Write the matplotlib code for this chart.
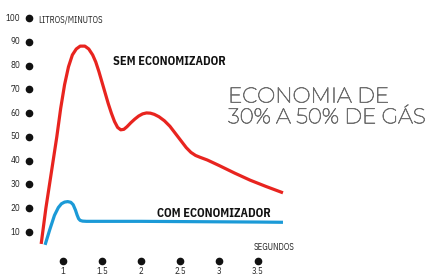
import matplotlib.pyplot as plt
import matplotlib.patheffects as pe
import numpy as np

# valores (segundos, litros/minuto)
sem_x = [0.72, 0.78, 0.85, 0.92, 0.97, 1.02, 1.07, 1.12, 1.17, 1.22, 1.28, 1.33, 1.38, 1.42, 1.46, 1.50,
         1.54, 1.58, 1.62, 1.66, 1.70, 1.74, 1.78, 1.82, 1.87, 1.92, 1.97, 2.02, 2.07, 2.12, 2.17,
         2.23, 2.30, 2.37, 2.44, 2.51, 2.58, 2.64, 2.70, 2.76, 2.85, 3.00, 3.20, 3.40, 3.60, 3.82]
sem_y = [5, 20, 35, 50, 62, 72, 79.5, 84.5, 87, 88.2, 88.2, 87, 84.5, 81.5, 77.5, 73,
         68.5, 64, 60, 56.5, 54, 53, 53.2, 54.3, 56, 57.5, 58.8, 59.7, 60.1, 60, 59.5,
         58.5, 56.8, 54.5, 51.5, 48.5, 45.5, 43.5, 42.2, 41.4, 40.3, 38, 34.8, 31.8, 29.2, 26.5]

com_x = [0.77, 0.83, 0.89, 0.94, 0.98, 1.02, 1.06, 1.10, 1.13, 1.16, 1.18, 1.20, 1.22, 1.25, 1.30,
         1.60, 2.00, 2.50, 3.00, 3.50, 3.82]
com_y = [4.6, 11, 17, 20.3, 21.9, 22.6, 22.8, 22.5, 21.5, 19.2, 17.2, 15.6, 14.9, 14.6, 14.5,
         14.5, 14.5, 14.4, 14.3, 14.2, 14.1]

y_ticks = [10, 20, 30, 40, 50, 60, 70, 80, 90, 100]
x_ticks = [1, 1.5, 2, 2.5, 3, 3.5]
x_labels = ['1', '1.5', '2', '2.5', '3', '3.5']

narrow = 'IBM Plex Sans Condensed'

fig = plt.figure(figsize=(4.3, 2.75), dpi=100)
ax = fig.add_axes([0, 0, 1, 1])
ax.set_xlim(0.192, 5.705)
ax.set_ylim(-8.07, 107.6)
ax.axis('off')

# eixo y: pontos e rótulos
ax.plot([0.564] * len(y_ticks), y_ticks, 'o', color='#111111', ms=4.5)
for v in y_ticks:
    ax.text(0.455, v, str(v), ha='right', va='center', fontsize=6.5, family=narrow, color='#222222')

# eixo x: pontos e rótulos
ax.plot(x_ticks, [-2.2] * len(x_ticks), 'o', color='#111111', ms=4.5)
for v, s in zip(x_ticks, x_labels):
    ax.text(v, -4.9, s, ha='center', va='top', fontsize=6.3, family=narrow, color='#222222')

ax.plot(sem_x, sem_y, color='#e8241f', lw=2.3, solid_capstyle='butt', solid_joinstyle='round')
ax.plot(com_x, com_y, color='#1b9ad7', lw=2.3, solid_capstyle='butt', solid_joinstyle='round')

ax.text(0.68, 99.3, 'LITROS/MINUTOS', ha='left', va='center', fontsize=6.2, family=narrow, color='#222222')
ax.text(3.705, 3.7, 'SEGUNDOS', ha='center', va='center', fontsize=6.2, family=narrow, color='#222222')

ax.text(1.64, 81.9, 'SEM ECONOMIZADOR', ha='left', va='center', fontsize=8.7,
        family=narrow, weight='bold', color='#111111')
ax.text(2.205, 18.0, 'COM ECONOMIZADOR', ha='left', va='center', fontsize=8.7,
        family=narrow, weight='bold', color='#111111')

grey = '#6e6e6e'
ax.text(3.115, 62.4, 'ECONOMIA DE\n30% A 50% DE GÁS', ha='left', va='center', fontsize=15.4,
        family=['Montserrat', 'Lato'], color=grey, linespacing=1.12,
        path_effects=[pe.withStroke(linewidth=0.5, foreground=grey)])

plt.savefig('out.png', dpi=100)
